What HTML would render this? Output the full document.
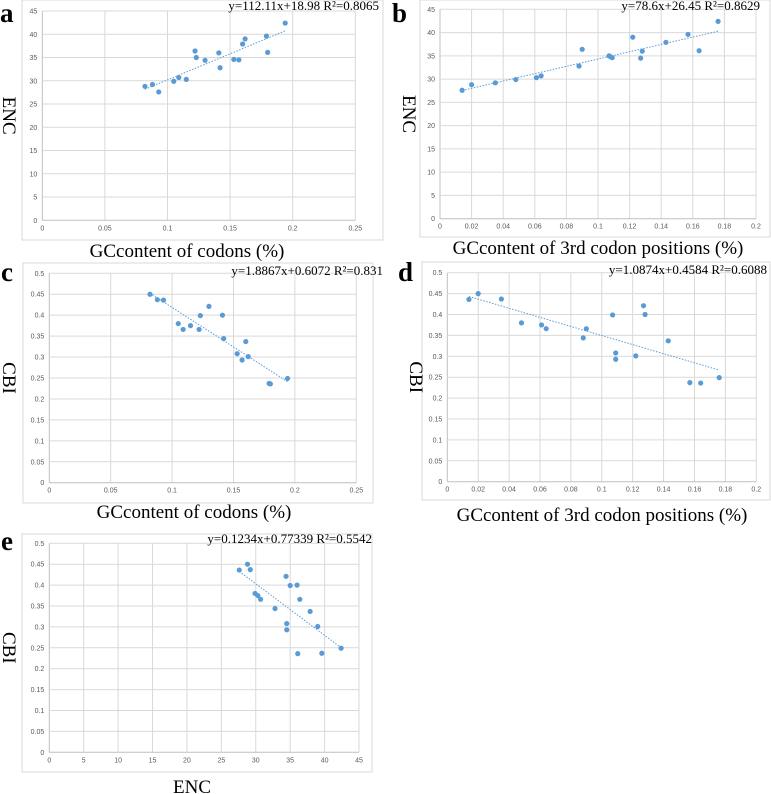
<!DOCTYPE html>
<html><head><meta charset="utf-8"><style>
html,body{margin:0;padding:0;background:#fff;}
svg{display:block;}
</style></head><body>
<svg id="fig" width="771" height="794" xmlns="http://www.w3.org/2000/svg"></svg>
<script>
// Panel a data: GC content vs ENC
const aX = [0.082,0.088,0.093,0.105,0.109,0.115,0.122,0.123,0.130,0.141,0.142,0.153,0.157,0.160,0.162,0.179,0.180,0.194];
const aY = [28.8,29.2,27.6,29.9,30.7,30.3,36.4,35.0,34.4,36.0,32.8,34.6,34.5,37.9,39.0,39.6,36.1,42.4];
// Panel b data: GC3 vs ENC
const bX = [0.014,0.020,0.035,0.048,0.061,0.064,0.088,0.090,0.107,0.109,0.108,0.122,0.127,0.128,0.143,0.157,0.164,0.176];
const bY = [27.6,28.8,29.2,29.9,30.3,30.7,32.8,36.4,35.0,34.6,34.8,39.0,34.5,36.0,37.9,39.6,36.1,42.4];
// Panel c data: GC content vs CBI
const cX = [0.082,0.088,0.093,0.105,0.109,0.115,0.122,0.123,0.130,0.141,0.142,0.153,0.157,0.160,0.162,0.179,0.180,0.194];
const cY = [0.450,0.437,0.436,0.380,0.366,0.375,0.366,0.399,0.421,0.400,0.344,0.308,0.293,0.337,0.301,0.237,0.236,0.249];
// Panel d data: GC3 vs CBI
const dX = [0.014,0.020,0.035,0.048,0.061,0.064,0.088,0.090,0.107,0.109,0.109,0.122,0.127,0.128,0.143,0.157,0.164,0.176];
const dY = [0.436,0.450,0.437,0.380,0.375,0.366,0.344,0.366,0.399,0.308,0.293,0.301,0.421,0.400,0.337,0.237,0.236,0.249];
// Panel e data: ENC vs CBI
const eX = [27.6,28.8,29.2,29.9,30.3,30.7,32.8,34.4,34.5,34.5,35.0,36.0,36.1,36.4,37.9,39.0,39.6,42.4];
const eY = [0.436,0.450,0.437,0.380,0.375,0.366,0.344,0.421,0.308,0.293,0.399,0.400,0.236,0.366,0.337,0.301,0.237,0.249];
// Trendline coefficients [slope, intercept]
const aFit = [112.11, 18.98];
const bFit = [78.6, 26.45];
const cFit = [-1.8867, 0.6072];
const dFit = [-1.0874, 0.4584];
const eFit = [-0.01234, 0.77339];
// Tick labels
const ticksGC = ["0","0.05","0.1","0.15","0.2","0.25"];
const ticksGC3 = ["0","0.02","0.04","0.06","0.08","0.1","0.12","0.14","0.16","0.18","0.2"];
const ticksENC = ["0","5","10","15","20","25","30","35","40","45"];
const ticksCBI = ["0","0.05","0.1","0.15","0.2","0.25","0.3","0.35","0.4","0.45","0.5"];
const eqs = ["y=112.11x+18.98 R²=0.8065","y=78.6x+26.45 R²=0.8629","y=1.8867x+0.6072 R²=0.831","y=1.0874x+0.4584 R²=0.6088","y=0.1234x+0.77339 R²=0.5542"];

const NS="http://www.w3.org/2000/svg";
const svg=document.getElementById('fig');
function mk(tag,attrs,parent){const e=document.createElementNS(NS,tag);for(const k in attrs)e.setAttribute(k,attrs[k]);(parent||svg).appendChild(e);return e;}

function panel(o){
  const g=mk('g',{});
  
  
  const fr=mk('rect',{x:o.fx,y:o.fy,width:o.fw,height:o.fh,fill:'#fff',stroke:'#d9d9d9','stroke-width':1},g);
  
  
  const xmin=parseFloat(o.xt[0]),xmax=parseFloat(o.xt[o.xt.length-1]);
  const ymin=parseFloat(o.yt[0]),ymax=parseFloat(o.yt[o.yt.length-1]);
  const sx=v=>o.x0+(v-xmin)/(xmax-xmin)*(o.x1-o.x0);
  const sy=v=>o.y0-(v-ymin)/(ymax-ymin)*(o.y0-o.y1);
  o.xt.forEach((t,i)=>{
    const v=parseFloat(t),x=sx(v);
    const l=mk('line',{x1:x,x2:x,y1:o.y1,y2:o.y0,stroke:i==0?'#bfbfbf':'#d9d9d9','stroke-width':1},g);
    
    
    const tx=mk('text',{x:x,y:o.y0+10,'font-size':7,'font-family':'Liberation Sans, sans-serif',fill:'#595959','text-anchor':'middle'},g);
    tx.textContent=t;
    
    
  });
  o.yt.forEach((t,i)=>{
    const v=parseFloat(t),y=sy(v);
    const l=mk('line',{x1:o.x0,x2:o.x1,y1:y,y2:y,stroke:i==0?'#bfbfbf':'#d9d9d9','stroke-width':1},g);
    
    
    const tx=mk('text',{x:o.x0-5,y:y+2.5,'font-size':7,'font-family':'Liberation Sans, sans-serif',fill:'#595959','text-anchor':'end'},g);
    tx.textContent=t;
    
    
  });
  const lo=Math.min(...o.xs),hi=Math.max(...o.xs);
  const tl=mk('line',{x1:sx(lo),y1:sy(o.fit[0]*lo+o.fit[1]),x2:sx(hi),y2:sy(o.fit[0]*hi+o.fit[1]),stroke:'#5b9bd5','stroke-width':1,'stroke-dasharray':'1.5,1.5'},g);
  
  
  o.xs.forEach((v,i)=>{
    const c=mk('circle',{cx:sx(v),cy:sy(o.ys[i]),r:2.6,fill:'#5b9bd5'},g);
    
    
  });
  const eq=mk('text',{x:o.ex,y:o.ey,'font-size':13,'font-family':'Liberation Serif, serif',fill:'#000','text-anchor':'end'},g);
  eq.textContent=o.eq;
  
  
  const lt=mk('text',{x:o.lx,y:o.ly,'font-size':27,'font-weight':'bold','font-family':'Liberation Serif, serif',fill:'#000'},g);
  lt.textContent=o.id;
  
  
  const xt=mk('text',{x:o.tx,y:o.ty,'font-size':19,'font-family':'Liberation Serif, serif',fill:'#000','text-anchor':'middle'},g);
  xt.textContent=o.xlabel;
  
  
  const yc=(o.y0+o.y1)/2;
  const yl=mk('text',{x:o.yx,y:yc,'font-size':19,'font-family':'Liberation Serif, serif',fill:'#000','text-anchor':'middle',transform:'rotate(90 '+o.yx+' '+yc+')'},g);
  yl.textContent=o.ylabel;
  
  
}

panel({id:'a',fx:22,fy:0,fw:361,fh:240,x0:42.3,x1:355.3,y0:220.3,y1:11,xt:ticksGC,yt:ticksENC,xs:aX,ys:aY,fit:aFit,eq:eqs[0],ex:379,ey:10,lx:0,ly:22,tx:187,ty:257,xlabel:'GCcontent of codons (%)',yx:3,ylabel:'ENC'});
panel({id:'b',fx:420,fy:0,fw:350,fh:237,x0:440,x1:756,y0:218.7,y1:9.3,xt:ticksGC3,yt:ticksENC,xs:bX,ys:bY,fit:bFit,eq:eqs[1],ex:760,ey:10,lx:392,ly:22,tx:598,ty:254,xlabel:'GCcontent of 3rd codon positions (%)',yx:403,ylabel:'ENC'});
panel({id:'c',fx:23,fy:263,fw:350,fh:240,x0:49.3,x1:356.3,y0:482.7,y1:273.3,xt:ticksGC,yt:ticksCBI,xs:cX,ys:cY,fit:cFit,eq:eqs[2],ex:383,ey:275,lx:1,ly:281,tx:194,ty:518,xlabel:'GCcontent of codons (%)',yx:3,ylabel:'CBI'});
panel({id:'d',fx:422,fy:262,fw:348,fh:238,x0:447.3,x1:756.3,y0:481.7,y1:272.7,xt:ticksGC3,yt:ticksCBI,xs:dX,ys:dY,fit:dFit,eq:eqs[3],ex:767,ey:274,lx:398,ly:281,tx:602,ty:521,xlabel:'GCcontent of 3rd codon positions (%)',yx:410,ylabel:'CBI'});
panel({id:'e',fx:22,fy:534,fw:350,fh:238,x0:49.3,x1:359,y0:752.3,y1:543.3,xt:ticksENC,yt:ticksCBI,xs:eX,ys:eY,fit:eFit,eq:eqs[4],ex:372,ey:543,lx:1,ly:550,tx:192,ty:793,xlabel:'ENC',yx:3,ylabel:'CBI'});
</script>
</body></html>
